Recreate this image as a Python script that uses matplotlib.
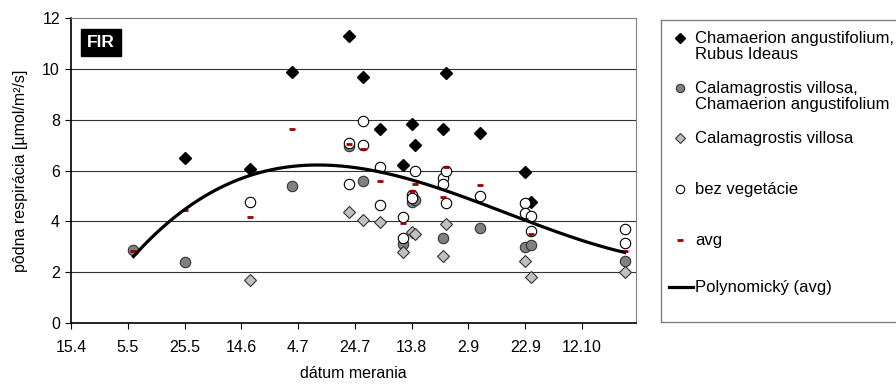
import numpy as np
import matplotlib.pyplot as plt
from datetime import datetime

plt.rcParams['font.family'] = ['Liberation Sans', 'DejaVu Sans']


def doy(d):
    # "d.m" -> day of year (non-leap year)
    return datetime.strptime(d, "%d.%m").timetuple().tm_yday


# Chamaerion angustifolium, Rubus Ideaus
cha_dates = ["25.5", "17.6", "2.7", "22.7", "27.7", "2.8", "10.8", "13.8", "14.8",
             "24.8", "25.8", "6.9", "22.9", "24.9"]
cha_vals = [6.48, 6.05, 9.89, 11.31, 9.66, 7.64, 6.22, 7.81, 7.00,
            7.64, 9.85, 7.49, 5.93, 4.78]

# Calamagrostis villosa, Chamaerion angustifolium
calcha_dates = ["7.5", "25.5", "2.7", "22.7", "27.7", "10.8", "13.8", "14.8", "24.8",
                "6.9", "22.9", "24.9", "27.10"]
calcha_vals = [2.86, 2.40, 5.39, 6.95, 5.59, 3.10, 4.75, 4.84, 3.33,
               3.75, 2.98, 3.07, 2.45]

# Calamagrostis villosa
cal_dates = ["17.6", "22.7", "27.7", "2.8", "10.8", "13.8", "14.8", "24.8", "25.8",
             "22.9", "24.9", "27.10"]
cal_vals = [1.70, 4.36, 4.06, 3.96, 2.78, 3.60, 3.49, 2.65, 3.90,
            2.45, 1.82, 2.02]

# bez vegetácie
bez_dates = ["17.6", "22.7", "22.7", "27.7", "27.7", "2.8", "2.8", "10.8", "10.8",
             "13.8", "13.8", "14.8", "24.8", "24.8", "25.8", "25.8", "6.9",
             "22.9", "22.9", "24.9", "24.9", "27.10", "27.10"]
bez_vals = [4.78, 7.10, 5.48, 7.93, 7.01, 6.15, 4.65, 4.19, 3.33,
            5.04, 4.90, 6.00, 5.72, 5.47, 5.98, 4.74, 5.00,
            4.74, 4.34, 4.21, 3.63, 3.70, 3.16]

# avg
avg_dates = ["7.5", "25.5", "17.6", "2.7", "22.7", "27.7", "2.8", "10.8", "13.8",
             "14.8", "24.8", "25.8", "6.9", "22.9", "24.9", "27.10"]
avg_vals = [2.83, 4.44, 4.18, 7.64, 7.04, 6.85, 5.59, 3.92, 5.21,
            5.46, 4.95, 6.13, 5.43, 4.09, 3.49, 2.85]

tick_dates = ["15.4", "5.5", "25.5", "14.6", "4.7", "24.7", "13.8", "2.9", "22.9", "12.10"]

fig = plt.figure(figsize=(8.96, 3.9), dpi=100)
ax = fig.add_axes([71 / 896, 1 - 323 / 390, 565 / 896, 305 / 390])

ax.plot([doy(d) for d in cha_dates], cha_vals, ls='none', marker='D', ms=6.5,
        mfc='black', mec='black', zorder=3)
ax.plot([doy(d) for d in calcha_dates], calcha_vals, ls='none', marker='o', ms=7.5,
        mfc='#808080', mec='#333333', mew=0.8, zorder=3)
ax.plot([doy(d) for d in cal_dates], cal_vals, ls='none', marker='D', ms=6.5,
        mfc='#c0c0c0', mec='#333333', mew=0.8, zorder=3)
ax.plot([doy(d) for d in bez_dates], bez_vals, ls='none', marker='o', ms=7.5,
        mfc='white', mec='black', mew=0.8, zorder=3)
ax.plot([doy(d) for d in avg_dates], avg_vals, ls='none', marker='_', ms=4,
        mew=2, color='#990000', zorder=4)

# 3rd order polynomial trend of avg
avg_x = np.array([doy(d) for d in avg_dates], dtype=float)
coef = np.polyfit(avg_x, avg_vals, 3)
xs = np.linspace(avg_x.min(), avg_x.max(), 300)
ax.plot(xs, np.polyval(coef, xs), color='black', lw=2.3, zorder=5)

ax.set_xlim(doy("15.4"), doy("31.10"))
ax.set_ylim(0, 12)
ax.set_xticks([doy(d) for d in tick_dates])
ax.set_xticklabels(tick_dates)
ax.set_yticks(range(0, 13, 2))
ax.tick_params(direction='out', length=4, labelsize=11.5, pad=8)
ax.tick_params(axis='y', pad=4)
for y in range(2, 12, 2):
    ax.axhline(y, color='#333333', lw=0.8, zorder=1)
ax.spines['top'].set_color('#808080')
ax.spines['right'].set_color('#808080')
ax.spines['left'].set_linewidth(1.2)
ax.spines['bottom'].set_linewidth(1.2)

ax.set_ylabel("pôdna respirácia [µmol/m²/s]", fontsize=11.5, labelpad=10)
ax.set_xlabel("dátum merania", fontsize=11.5, labelpad=8)

ax.text(0.053, 0.92, "FIR", transform=ax.transAxes, color='white', fontsize=12.5,
        fontweight='bold', ha='center', va='center',
        bbox=dict(boxstyle='square,pad=0.35', fc='black', ec='black'))

# legend box
lg = fig.add_axes([661 / 896, 1 - 322 / 390, 260 / 896, 302 / 390])
lg.set_xlim(661, 921)
lg.set_ylim(322, 20)
lg.set_xticks([])
lg.set_yticks([])
for s in lg.spines.values():
    s.set_color('#808080')
    s.set_linewidth(1)

mx, tx = 680, 695
lg.plot(mx, 38, marker='D', ms=5, mfc='black', mec='black')
lg.plot(mx, 88, marker='o', ms=6, mfc='#808080', mec='#333333', mew=0.8)
lg.plot(mx, 138, marker='D', ms=5, mfc='#c0c0c0', mec='#333333', mew=0.8)
lg.plot(mx, 189, marker='o', ms=6, mfc='white', mec='black', mew=0.8)
lg.plot(mx, 240, marker='_', ms=4, mew=2, color='#990000')
lg.plot([669, 693], [287, 287], color='black', lw=2.3)

entries = [(38, "Chamaerion angustifolium,\nRubus Ideaus"),
           (88, "Calamagrostis villosa,\nChamaerion angustifolium"),
           (138, "Calamagrostis villosa"),
           (189, "bez vegetácie"),
           (240, "avg"),
           (287, "Polynomický (avg)")]
for y, t in entries:
    lg.text(tx, y - 7, t, fontsize=12, va='top', ha='left', linespacing=1.05)

fig.savefig("out.png", dpi=100)
